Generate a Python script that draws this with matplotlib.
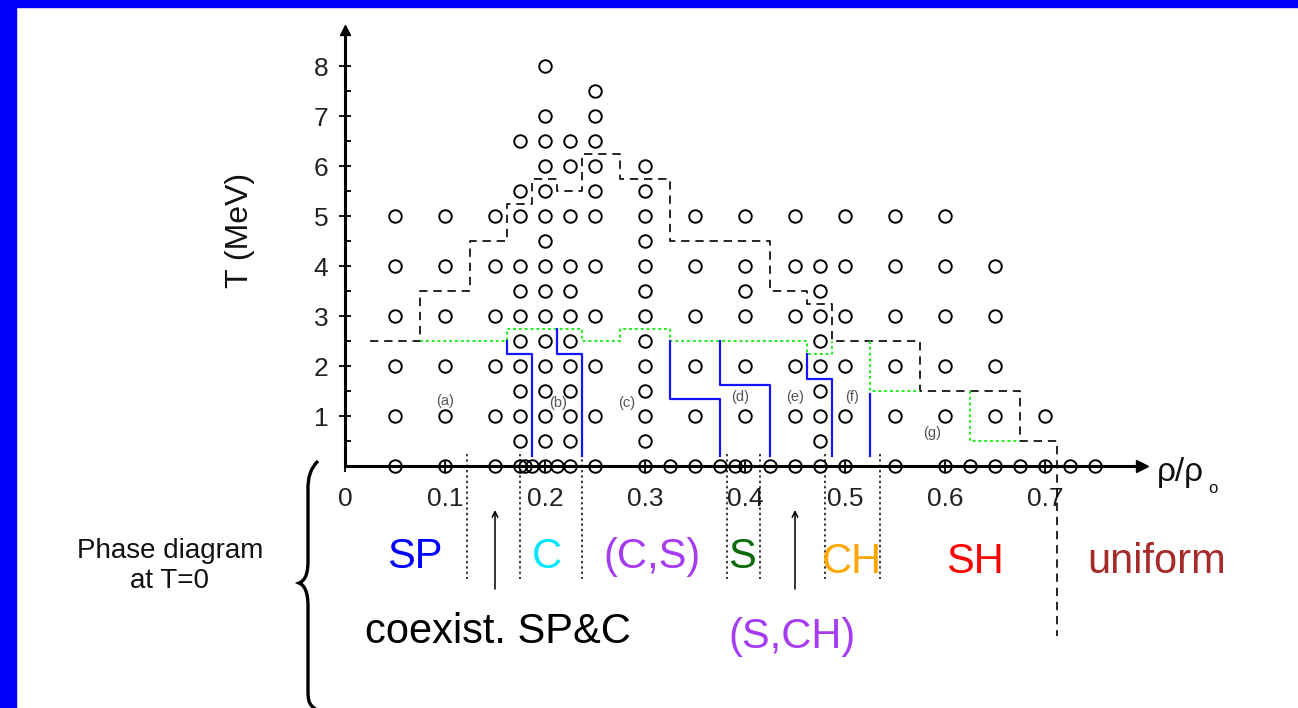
import matplotlib
matplotlib.use("Agg")
import matplotlib.pyplot as plt
from matplotlib.patches import Rectangle, PathPatch
from matplotlib.path import Path
from matplotlib.ticker import FixedLocator

plt.rcParams['font.family'] = ['Liberation Sans', 'DejaVu Sans']

# ---- simulation grid: density columns and the temperatures computed at each ----
sample_rho = [0.05, 0.10, 0.15, 0.175, 0.20, 0.225, 0.25, 0.30, 0.35,
              0.40, 0.45, 0.475, 0.50, 0.55, 0.60, 0.65, 0.70]
sample_T = [
    [0, 1, 2, 3, 4, 5],
    [0, 1, 2, 3, 4, 5],
    [0, 1, 2, 3, 4, 5],
    [0, 0.5, 1, 1.5, 2, 2.5, 3, 3.5, 4, 5, 5.5, 6.5],
    [0, 0.5, 1, 1.5, 2, 2.5, 3, 3.5, 4, 4.5, 5, 5.5, 6, 6.5, 7, 8],
    [0, 0.5, 1, 1.5, 2, 2.5, 3, 3.5, 4, 5, 6, 6.5],
    [0, 1, 2, 3, 4, 5, 5.5, 6, 6.5, 7, 7.5],
    [0, 0.5, 1, 1.5, 2, 2.5, 3, 3.5, 4, 4.5, 5, 5.5, 6],
    [0, 1, 2, 3, 4, 5],
    [0, 1, 2, 3, 3.5, 4, 5],
    [0, 1, 2, 3, 4, 5],
    [0, 0.5, 1, 1.5, 2, 2.5, 3, 3.5, 4],
    [0, 1, 2, 3, 4, 5],
    [0, 1, 2, 3, 4, 5],
    [0, 1, 2, 3, 4, 5],
    [0, 1, 2, 3, 4],
    [0, 1],
]
# extra densities computed only at T = 0
zeroT_rho = [0.18, 0.1875, 0.2125, 0.325, 0.375, 0.39, 0.425,
             0.625, 0.675, 0.725, 0.75]

# ---- boundary between non-uniform and uniform matter (dashed) ----
bound_rho = [0.025, 0.075, 0.075, 0.125, 0.125, 0.1625, 0.1625, 0.1875, 0.1875,
             0.2125, 0.2125, 0.2375, 0.2375, 0.275, 0.275, 0.325, 0.325, 0.425,
             0.425, 0.4625, 0.4625, 0.4875, 0.4875, 0.575, 0.575, 0.675, 0.675,
             0.7125, 0.7125]
bound_T = [2.5, 2.5, 3.5, 3.5, 4.5, 4.5, 5.25, 5.25, 5.75,
           5.75, 5.5, 5.5, 6.25, 6.25, 5.75, 5.75, 4.5, 4.5,
           3.5, 3.5, 3.25, 3.25, 2.5, 2.5, 1.5, 1.5, 0.5,
           0.5, -3.4]

# ---- upper limit of the pasta structures (green dotted) ----
pasta_rho = [[0.075, 0.1625, 0.1625, 0.2375, 0.2375, 0.275, 0.275, 0.325, 0.325,
              0.4625, 0.4625, 0.4875, 0.4875],
             [0.525, 0.525, 0.575],
             [0.625, 0.625, 0.675]]
pasta_T = [[2.5, 2.5, 2.75, 2.75, 2.5, 2.5, 2.75, 2.75, 2.5, 2.5, 2.25, 2.25, 2.5],
           [2.5, 1.5, 1.5],
           [1.5, 0.5, 0.5]]

# ---- structure boundaries at finite temperature (blue) ----
shape_rho = [[0.1625, 0.1625, 0.1875, 0.1875],
             [0.2125, 0.2125, 0.2375, 0.2375],
             [0.325, 0.325, 0.375, 0.375],
             [0.375, 0.375, 0.425, 0.425],
             [0.4625, 0.4625, 0.4875, 0.4875],
             [0.525, 0.525]]
shape_T = [[2.5, 2.25, 2.25, 0.2],
           [2.75, 2.25, 2.25, 0.2],
           [2.5, 1.35, 1.35, 0.2],
           [2.5, 1.625, 1.625, 0.2],
           [2.25, 1.75, 1.75, 0.2],
           [1.45, 0.2]]

# region tags
tag_text = ['(a)', '(b)', '(c)', '(d)', '(e)', '(f)', '(g)']
tag_rho = [0.10, 0.213, 0.282, 0.395, 0.45, 0.507, 0.587]
tag_T = [1.3, 1.27, 1.26, 1.38, 1.38, 1.38, 0.66]

# ---- T = 0 phase sequence ----
t0_divider_rho = [0.1225, 0.175, 0.2375, 0.3825, 0.415, 0.48, 0.535]
phase_names = ['SP', 'C', '(C,S)', 'S', 'CH', 'SH', 'uniform']
phase_rho = [0.07, 0.202, 0.307, 0.397, 0.507, 0.63, 0.812]
phase_T = [-1.82, -1.82, -1.82, -1.82, -1.92, -1.92, -1.92]
phase_colors = ['#0000ff', '#00e5ff', '#a63cf2', '#0b6b0b', '#ffa500', '#ff0000', '#a52a2a']

coexist_rho = [0.15, 0.45]
coexist_names = ['coexist. SP&C', '(S,CH)']
coexist_colors = ['black', '#a63cf2']

x_ticks = [0, 0.1, 0.2, 0.3, 0.4, 0.5, 0.6, 0.7]
x_ticklabels = ['0', '0.1', '0.2', '0.3', '0.4', '0.5', '0.6', '0.7']
y_ticks = [1, 2, 3, 4, 5, 6, 7, 8]

# ---------------------------------------------------------------------------
fig = plt.figure(figsize=(12.98, 7.08), dpi=100)
fig.patch.set_facecolor('white')
ax = fig.add_axes([0, 0, 1, 1])
ax.set_xlim(-0.345, 0.953)
ax.set_ylim(-4.84, 9.32)
ax.set_facecolor('none')

# blue slide frame
fig.add_artist(Rectangle((0, 1 - 7 / 708), 1, 7 / 708, transform=fig.transFigure,
                         color='#0000ff', zorder=0))
fig.add_artist(Rectangle((0, 0), 16 / 1298, 1, transform=fig.transFigure,
                         color='#0000ff', zorder=0))

# axes through the origin
for side in ('top', 'right'):
    ax.spines[side].set_visible(False)
ax.spines['left'].set_position(('data', 0))
ax.spines['bottom'].set_position(('data', 0))
ax.spines['left'].set_bounds(0, 8.7)
ax.spines['bottom'].set_bounds(0, 0.795)
for side in ('left', 'bottom'):
    ax.spines[side].set_linewidth(2.2)
ax.plot([0], [8.72], marker='^', color='black', markersize=7, clip_on=False, zorder=6)
ax.plot([0.797], [0], marker='>', color='black', markersize=8, clip_on=False, zorder=6)

ax.set_xticks(x_ticks)
ax.set_xticklabels(x_ticklabels)
ax.set_yticks(y_ticks)
ax.yaxis.set_minor_locator(FixedLocator([t + 0.5 for t in range(0, 8)]))
ax.tick_params(axis='both', which='major', direction='inout', length=9, width=1.3,
               labelsize=19, colors='black')
ax.tick_params(axis='x', which='major', pad=10.5)
ax.tick_params(axis='y', which='major', pad=7.5)
ax.tick_params(axis='y', which='minor', direction='in', length=4, width=1.3)
for lab in ax.get_xticklabels() + ax.get_yticklabels():
    lab.set_color('#222222')

# simulation points
for rho, temps in zip(sample_rho, sample_T):
    ax.plot([rho] * len(temps), temps, linestyle='none', marker='o', markersize=9,
            markerfacecolor='none', markeredgecolor='black', markeredgewidth=1.4,
            zorder=4)
ax.plot(zeroT_rho, [0] * len(zeroT_rho), linestyle='none', marker='o', markersize=9,
        markerfacecolor='none', markeredgecolor='black', markeredgewidth=1.4, zorder=4)

# boundaries
ax.plot(bound_rho, bound_T, color='black', linestyle=(0, (5, 3.5)), linewidth=1.2, zorder=3)
for r, t in zip(pasta_rho, pasta_T):
    ax.plot(r, t, color='#22ee22', linestyle=(0, (1.5, 1.5)), linewidth=1.4, zorder=3)
for r, t in zip(shape_rho, shape_T):
    ax.plot(r, t, color='#1515ff', linewidth=1.6, zorder=3)

for s, r, t in zip(tag_text, tag_rho, tag_T):
    ax.text(r, t, s, ha='center', va='center', fontsize=10.5, color='#555555', zorder=5)

# axis titles
ax.text(-0.105, 4.72, 'T (MeV)', rotation=90, ha='center', va='center', fontsize=23,
        color='#111111')
ax.text(0.812, -0.12, 'ρ/ρ', ha='left', va='center', fontsize=24, color='#111111')
ax.text(0.863, -0.45, 'o', ha='left', va='center', fontsize=12, color='#111111')

# T = 0 phase sequence
for r in t0_divider_rho:
    ax.plot([r, r], [0.25, -2.25], color='black', linestyle=(0, (1.5, 2)), linewidth=1.1)
for name, r, t, c in zip(phase_names, phase_rho, phase_T, phase_colors):
    ax.text(r, t, name, ha='center', va='center', fontsize=30, color=c)
for r, name, c in zip(coexist_rho, coexist_names, coexist_colors):
    ax.annotate('', xy=(r, -0.88), xytext=(r, -2.46),
                arrowprops=dict(arrowstyle='->', color='black', lw=1.1,
                                shrinkA=0, shrinkB=0))
ax.text(0.153, -3.32, coexist_names[0], ha='center', va='center', fontsize=30,
        color=coexist_colors[0])
ax.text(0.447, -3.42, coexist_names[1], ha='center', va='center', fontsize=30,
        color=coexist_colors[1])

ax.text(-0.175, -2.0, 'Phase diagram\nat T=0', ha='center', va='center', fontsize=20,
        color='#111111', linespacing=1.15)

# curly brace grouping the T = 0 sequence
brace = Path([(-0.027, 0.1), (-0.038, -0.1), (-0.037, -0.5),
              (-0.037, -1.9),
              (-0.037, -2.2), (-0.041, -2.3), (-0.046, -2.34),
              (-0.041, -2.38), (-0.037, -2.5), (-0.037, -2.8),
              (-0.037, -4.3),
              (-0.037, -4.7), (-0.038, -4.75), (-0.027, -4.9)],
             [Path.MOVETO, Path.CURVE3, Path.CURVE3,
              Path.LINETO,
              Path.CURVE4, Path.CURVE4, Path.CURVE4,
              Path.CURVE4, Path.CURVE4, Path.CURVE4,
              Path.LINETO,
              Path.CURVE4, Path.CURVE4, Path.CURVE4])
ax.add_patch(PathPatch(brace, facecolor='none', edgecolor='black', linewidth=2.4,
                       clip_on=False))

fig.savefig('out.png', dpi=100, facecolor='white')
